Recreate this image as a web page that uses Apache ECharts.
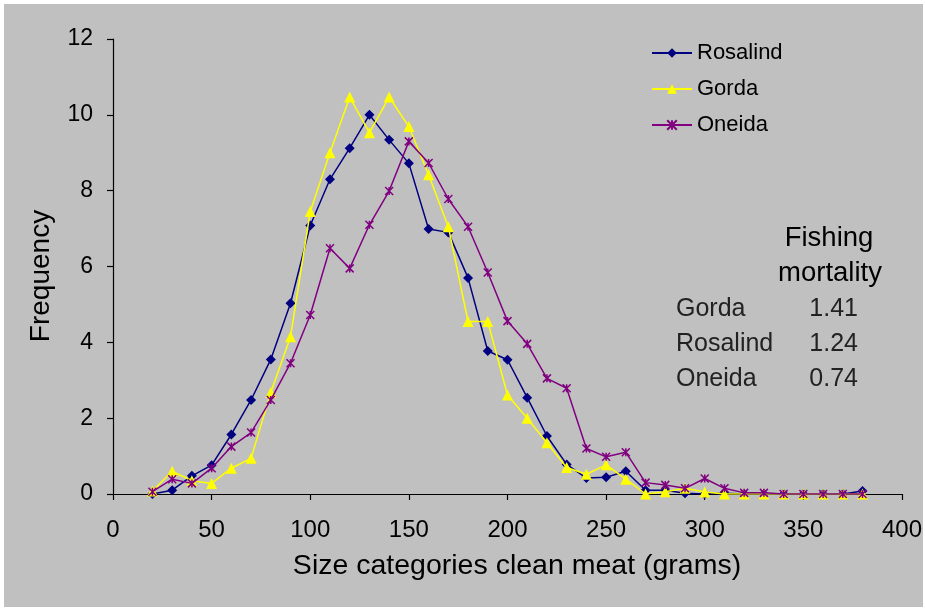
<!DOCTYPE html>
<html>
<head>
<meta charset="utf-8">
<script src="https://cdn.jsdelivr.net/npm/echarts@6/dist/echarts.min.js"></script>
<style>
html,body{margin:0;padding:0;background:#ffffff;}
#chart{width:925px;height:608px;}
</style>
</head>
<body>
<div id="chart"></div>
<script>
const sizes = [20,30,40,50,60,70,80,90,100,110,120,130,140,150,160,170,180,190,200,210,220,230,240,250,260,270,280,290,300,310,320,330,340,350,360,370,380];
const rosalind = [0,0.1,0.48,0.76,1.57,2.48,3.55,5.03,7.08,8.3,9.12,10.0,9.34,8.72,6.99,6.9,5.7,3.77,3.54,2.54,1.53,0.78,0.42,0.44,0.6,0.1,0.1,0.02,0,0.02,0,0,0,0,0,0,0.08];
const gorda = [0.08,0.6,0.35,0.28,0.68,0.94,2.68,4.15,7.45,9.0,10.47,9.53,10.47,9.69,8.42,7.05,4.55,4.55,2.61,2.0,1.35,0.7,0.52,0.77,0.39,0,0.06,0.15,0.05,0,0,0,0,0,0,0,0];
const oneida = [0.06,0.39,0.28,0.68,1.25,1.62,2.48,3.45,4.72,6.48,5.95,7.1,7.99,9.3,8.73,7.78,7.05,5.84,4.56,3.96,3.05,2.79,1.2,0.98,1.1,0.3,0.24,0.15,0.41,0.15,0.03,0.03,0,0,0,0,0];
const mortalitySites = ['Gorda','Rosalind','Oneida'];
const mortalityValues = ['1.41','1.24','0.74'];

const FONT = '"Liberation Sans", Arial, sans-serif';
const pair = arr => sizes.map((x,i)=>[x,arr[i]]);

const chart = echarts.init(document.getElementById('chart'), null, {renderer:'canvas'});

const tableTexts = [];
mortalitySites.forEach((s,i)=>{
  tableTexts.push({type:'text', x:676, y:309+i*35, z:10,
    style:{text:s, font:'25px '+FONT, fill:'#222222', textVerticalAlign:'middle'}});
  tableTexts.push({type:'text', x:858, y:309+i*35, z:10,
    style:{text:mortalityValues[i], font:'25px '+FONT, fill:'#222222', textAlign:'right', textVerticalAlign:'middle'}});
});

const option = {
  backgroundColor:'#ffffff',
  animation:false,
  textStyle:{fontFamily:FONT},
  grid:{left:113, right:21, top:39, bottom:114, containLabel:false},
  xAxis:{
    type:'value', min:0, max:400, interval:50,
    axisLine:{show:true, onZero:false, lineStyle:{color:'#000', width:1.2}},
    axisTick:{show:true, length:6, lineStyle:{color:'#000', width:1.2}},
    axisLabel:{color:'#000', fontSize:24, fontFamily:FONT, margin:24},
    splitLine:{show:false}
  },
  yAxis:{
    type:'value', min:0, max:12, interval:2,
    axisLine:{show:true, lineStyle:{color:'#000', width:1.2}},
    axisTick:{show:true, length:6, lineStyle:{color:'#000', width:1.2}},
    axisLabel:{color:'#000', fontSize:23, fontFamily:FONT, margin:20},
    splitLine:{show:false}
  },
  legend:{
    orient:'vertical', left:646, top:37, itemWidth:40, itemHeight:12, itemGap:14,
    textStyle:{color:'#000', fontSize:22, fontFamily:FONT, lineHeight:22},
    data:['Rosalind','Gorda','Oneida']
  },
  graphic:[
    {type:'rect', shape:{x:4,y:4,width:919,height:603}, style:{fill:'#c0c0c0'}, z:-10, silent:true},
    {type:'text', x:517, y:566, z:10,
      style:{text:'Size categories clean meat (grams)', font:'28.5px '+FONT, fill:'#000', textAlign:'center', textVerticalAlign:'middle'}},
    {type:'text', x:41, y:276, rotation:Math.PI/2, z:10,
      style:{text:'Frequency', font:'28px '+FONT, fill:'#000', textAlign:'center', textVerticalAlign:'middle'}},
    {type:'text', x:829, y:238, z:10,
      style:{text:'Fishing', font:'27.5px '+FONT, fill:'#000', textAlign:'center', textVerticalAlign:'middle'}},
    {type:'text', x:830, y:273, z:10,
      style:{text:'mortality', font:'27.5px '+FONT, fill:'#000', textAlign:'center', textVerticalAlign:'middle'}}
  ].concat(tableTexts),
  series:[
    {name:'Rosalind', type:'line', data:pair(rosalind), symbol:'diamond', symbolSize:10,
      lineStyle:{color:'#000080', width:1.5}, itemStyle:{color:'#000080'}, z:2},
    {name:'Gorda', type:'line', data:pair(gorda), symbol:'triangle', symbolSize:11,
      lineStyle:{color:'#ffff00', width:1.5}, itemStyle:{color:'#ffff00'}, z:3},
    {name:'Oneida', type:'line', data:pair(oneida), symbol:'path://M0,0L10,10M10,0L0,10M5,0L5,10', symbolSize:8,
      lineStyle:{color:'#800080', width:1.5}, itemStyle:{color:'#800080', borderColor:'#800080', borderWidth:1.5}, z:4}
  ]
};
chart.setOption(option);
</script>
</body>
</html>
